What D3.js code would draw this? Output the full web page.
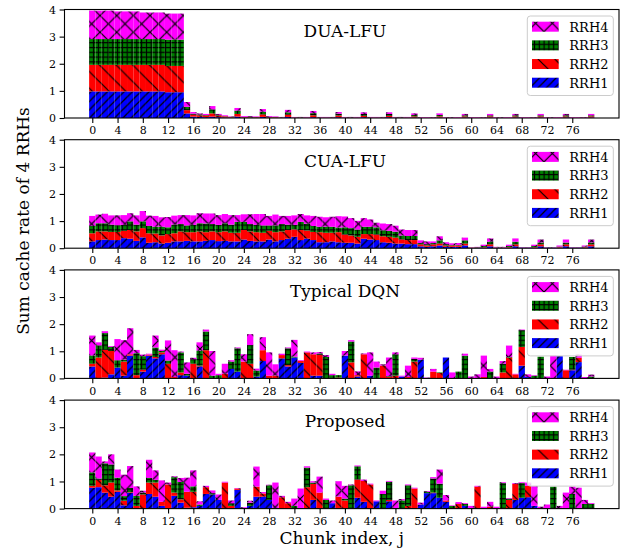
<!DOCTYPE html>
<html>
<head>
<meta charset="utf-8">
<script src="https://cdn.jsdelivr.net/npm/d3@7"></script>
<style>
  body { margin: 0; background: #fff; }
  text { font-family: "DejaVu Serif", serif; }
</style>
</head>
<body>
<svg id="chart" width="627" height="549"></svg>
<script>
// ---- data -------------------------------------------------------------
const chunks = d3.range(80);                       // chunk index j = 0..79
const seriesNames = ["RRH1", "RRH2", "RRH3", "RRH4"]; // stacking order, bottom to top
const xTickValues = d3.range(0, 80, 4);
const yTickValues = [0, 1, 2, 3, 4];
const panelTitles = ["DUA-LFU", "CUA-LFU", "Typical DQN", "Proposed"];

// cache rate per chunk: [RRH1, RRH2, RRH3, RRH4]
const duaLfu = [
  [.98,.98,.95,1.05],[.98,.98,.95,1.05],[.98,.98,.95,1.05],[.98,.98,.95,1.05],
  [.98,.98,.95,1.02],[.98,.98,.95,1.02],[.98,.98,.95,1.02],[.98,.98,.95,1.02],
  [.98,.98,.95,.98],[.98,.98,.95,.98],[.98,.98,.95,.98],[.98,.98,.95,.98],
  [.95,.97,.97,.96],[.95,.97,.97,.96],[.95,.97,.97,.96],[.17,.12,.12,.18],
  [.05,.07,.04,.06],[.04,.06,.03,.04],[.03,.06,.02,.04],[.05,.12,.15,.12],
  [.03,.06,.02,.04],[.02,.04,.01,.03],[.01,.02,.01,.02],[.05,.10,.12,.10],
  [.01,.02,.01,.03],[.01,.02,.01,.03],[.01,.02,.01,.02],[.04,.09,.10,.10],
  [.01,.02,.01,.03],[.01,.02,.01,.02],[0,.01,.01,.02],[.04,.08,.09,.09],
  [0,.01,.01,.02],[0,.01,.01,.02],[0,.01,.01,.02],[.03,.07,.08,.08],
  [0,.01,.01,.02],[0,.01,.01,.02],[0,.01,.01,.02],[.03,.06,.07,.06],
  [0,.01,.01,.02],[0,.01,.01,.02],[0,.01,.01,.02],[.03,.05,.07,.06],
  [0,.01,.01,.02],[0,.01,.01,.02],[0,.01,.01,.02],[.03,.05,.07,.06],
  [0,.01,.01,.02],[0,.01,.01,.02],[0,.01,.01,.02],[.02,.04,.05,.06],
  [0,.01,0,.02],[0,.01,0,.02],[0,.01,0,.02],[.02,.04,.05,.06],
  [0,.01,0,.02],[0,.01,0,.02],[0,.01,0,.02],[.02,.04,.04,.05],
  [0,.01,0,.02],[0,.01,0,.02],[0,.01,0,.02],[.02,.04,.04,.05],
  [0,.01,0,.02],[0,.01,0,.02],[0,.01,0,.02],[.02,.04,.04,.05],
  [0,.01,0,.02],[0,.01,0,.02],[0,.01,0,.02],[.02,.04,.04,.05],
  [0,.01,0,.02],[0,.01,0,.02],[0,.01,0,.02],[.02,.04,.04,.05],
  [0,.01,0,.02],[0,.01,0,.02],[0,.01,0,.02],[.02,.04,.04,.05]
];

const cuaLfu = [
  [.25,.30,.27,.37],[.30,.32,.30,.32],[.32,.30,.30,.35],[.30,.30,.27,.34],
  [.30,.30,.25,.36],[.37,.27,.22,.36],[.35,.32,.32,.30],[.27,.35,.25,.34],
  [.40,.34,.25,.38],[.20,.35,.27,.38],[.22,.32,.25,.40],[.17,.30,.32,.35],
  [.20,.32,.25,.38],[.25,.30,.32,.33],[.25,.37,.27,.33],[.27,.32,.25,.38],
  [.25,.34,.27,.35],[.25,.37,.30,.37],[.27,.32,.32,.37],[.30,.32,.27,.39],
  [.26,.33,.27,.36],[.27,.35,.30,.34],[.25,.32,.30,.35],[.25,.32,.40,.25],
  [.32,.35,.30,.28],[.27,.35,.27,.36],[.25,.34,.27,.40],[.25,.32,.27,.42],
  [.32,.32,.20,.35],[.25,.34,.25,.40],[.30,.32,.27,.30],[.35,.32,.20,.32],
  [.42,.27,.17,.35],[.30,.37,.30,.29],[.35,.30,.25,.31],[.30,.30,.22,.37],
  [.22,.37,.20,.37],[.22,.35,.22,.35],[.25,.32,.22,.37],[.22,.37,.17,.42],
  [.20,.30,.27,.40],[.20,.27,.27,.37],[.17,.25,.27,.32],[.35,.17,.27,.32],
  [.32,.20,.27,.27],[.30,.20,.27,.17],[.22,.22,.22,.25],[.20,.22,.22,.25],
  [.17,.22,.22,.22],[.17,.15,.15,.22],[.15,.15,.15,.22],[.15,.15,.15,.22],
  [.07,.07,.05,.10],[.05,.05,.05,.10],[.07,.07,.05,.06],[.10,.07,.12,.15],
  [.05,.05,.05,.07],[.05,.05,.02,.06],[.05,.05,.02,.07],[.10,.07,.12,.10],
  [.01,.01,.005,.01],[.02,.01,.01,.01],[.02,.02,.04,.05],[.07,.07,.10,.12],
  [.01,.01,.01,.02],[.01,.01,.01,.02],[.02,.02,.04,.05],[.07,.07,.10,.12],
  [.02,.005,.005,.01],[.02,.005,.005,.01],[.02,.02,.04,.05],[.07,.07,.07,.11],
  [.02,.005,.005,.01],[.02,.005,.005,.01],[.02,.02,.02,.04],[.07,.07,.07,.11],
  [.02,.005,.005,.01],[.02,.005,.005,.01],[.02,.02,.02,.04],[.07,.07,.07,.11]
];

const typicalDqn = [
  [.44,.10,.30,.74],[0,.77,.45,.11],[.03,1.02,.62,.07],[.15,.86,.15,.03],
  [.40,0,.27,.78],[.10,.52,.07,.72],[.84,.05,0,.96],[0,.12,.81,.12],
  [.25,.07,.50,.06],[.84,.04,0,.03],[.74,.05,.35,.44],[.89,.07,.05,.05],
  [0,.54,.12,.74],[0,.05,0,.99],[.12,.10,.74,.03],[.10,0,.07,.42],
  [0,.54,.17,.05],[.44,.03,.55,.31],[0,1.04,.69,.07],[0,0,.10,.91],
  [0,0,.12,.05],[0,.17,0,.37],[.35,0,.27,.05],[.25,0,.86,.03],
  [0,.62,0,.27],[0,.54,.69,.40],[.07,0,.22,.07],[.64,.40,0,.48],
  [0,.10,0,.86],[0,.10,0,.42],[.74,.12,0,.05],[.44,.05,.62,.03],
  [.77,0,.03,.62],[.57,.07,0,.03],[0,.96,0,.03],[.10,.79,0,.07],
  [.10,.77,.05,.05],[0,0,.79,.07],[0,0,.12,.05],[0,.03,.09,0],
  [.84,0,0,.17],[0,.59,.77,.05],[.07,.05,0,.14],[0,.89,0,.03],
  [.10,0,0,.86],[0,0,.40,.22],[0,.47,0,.05],[0,.05,.03,.69],
  [0,.10,.79,.07],[.07,0,0,.03],[0,.05,0,.42],[0,.62,.10,.05],
  [.69,0,0,.07],[0,0,0,.03],[0,.25,0,.10],[0,.20,.02,0],
  [.77,0,0,0],[0,0,0,.22],[0,0,.25,0],[0,0,.84,.07],
  [0,0,0,.07],[0,0,0,.15],[0,.05,0,.79],[0,0,.25,.10],
  [0,0,0,.07],[0,.22,.32,.10],[0,.77,.02,.42],[0,.15,0,.02],
  [.47,.69,.62,.02],[.05,0,0,.10],[0,0,.10,.02],[0,0,.80,0],
  [0,0,0,.07],[0,0,0,.85],[.82,0,0,0],[0,.30,0,.02],
  [.30,.02,.47,0],[.60,.16,0,.12],[0,0,0,.05],[0,0,.07,.07]
];

const proposed = [
  [.77,.07,.49,.74],[.79,.27,.05,.81],[.59,.27,.81,.07],[.44,.52,.67,.37],
  [.62,.05,.47,.30],[.12,.17,.17,.79],[.59,.02,.15,.81],[0,.10,.37,.35],
  [0,.52,.07,.07],[.54,.42,.17,.67],[.44,.52,.10,.35],[.10,.15,0,.79],
  [0,.89,0,.07],[.47,.12,.57,.03],[.22,.12,.64,.15],[.03,.59,0,.52],
  [.05,.57,.20,.59],[.10,0,.05,.12],[.54,.25,0,.05],[.52,0,.05,.10],
  [.32,0,0,.20],[0,.96,0,.03],[0,.10,.10,.10],[.69,.05,0,.02],
  [0,0,0,.05],[.10,0,.12,.07],[.44,.37,0,.74],[.44,.12,0,.05],
  [.32,0,.54,.02],[0,0,0,.96],[0,.42,0,.05],[0,.20,0,.05],
  [0,0,.10,.27],[0,0,0,.74],[0,.79,.72,.05],[.32,.59,.05,.05],
  [0,.59,0,.59],[0,0,.32,.05],[.20,0,0,.10],[0,.44,0,.57],
  [0,.30,.07,.47],[0,0,.86,.03],[.40,.67,.49,.03],[.25,.77,0,.05],
  [0,.89,0,.03],[.27,0,0,.03],[0,0,.54,.12],[.27,.05,.67,.03],
  [0,0,0,.30],[0,0,.30,.05],[0,.10,.76,.03],[0,.74,0,.03],
  [.15,0,0,.07],[.57,0,.05,.03],[.57,.02,.52,.05],[.40,0,.52,.52],
  [.25,.05,0,.20],[0,0,.10,.02],[0,.17,0,.07],[.10,0,.07,.03],
  [0,0,0,.10],[0,.81,0,.03],[0,0,0,.07],[0,.07,0,.18],
  [0,0,0,.07],[0,0,.94,.03],[0,.32,.05,.02],[.32,.59,0,.03],
  [.40,0,.54,.03],[.42,.42,0,.12],[.10,0,0,.74],[0,0,0,.07],
  [0,0,0,.15],[0,0,.81,0],[0,0,0,.10],[0,0,0,.59],
  [0,0,.54,.27],[0,0,0,.77],[0,0,.17,.15],[0,0,.17,.03]
];

const panelData = [duaLfu, cuaLfu, typicalDqn, proposed];

// ---- layout -------------------------------------------------------------
const W = 627, H = 549;
const plotLeft = 64.5, plotRight = 619;
const panelTop0 = 9.5, panelStep = 130.2, panelH = 108.5;

const svg = d3.select("#chart");

// hatch fills for each RRH
const seriesStyle = {
  RRH1: { color: "#0000ff", hatch: "fwd",   size: 8.33 },
  RRH2: { color: "#ff0000", hatch: "back",  size: 16.67 },
  RRH3: { color: "#008000", hatch: "grid",  size: 4.8 },
  RRH4: { color: "#ff00ff", hatch: "cross", size: 16.67 }
};

const defs = svg.append("defs");
function hatchPath(kind, p) {
  const fwd = `M0,${p} L${p},0 M${-p/2},${p/2} L${p/2},${-p/2} M${p/2},${1.5*p} L${1.5*p},${p/2}`;
  const back = `M0,0 L${p},${p} M${-p/2},${p/2} L${p/2},${1.5*p} M${p/2},${-p/2} L${1.5*p},${p/2}`;
  if (kind === "fwd") return fwd;
  if (kind === "back") return back;
  if (kind === "cross") return fwd + " " + back;
  return `M0,${p/2} L${p},${p/2} M${p/2},0 L${p/2},${p}`;
}
seriesNames.forEach(name => {
  const st = seriesStyle[name];
  const pat = defs.append("pattern")
    .attr("id", "hatch-" + name)
    .attr("patternUnits", "userSpaceOnUse")
    .attr("x", 0).attr("y", H % st.size)
    .attr("width", st.size).attr("height", st.size);
  pat.append("rect").attr("width", st.size).attr("height", st.size).attr("fill", st.color);
  pat.append("path").attr("d", hatchPath(st.hatch, st.size))
    .attr("stroke", "#000").attr("stroke-width", 1.2).attr("fill", "none");
});

const x = d3.scaleLinear().domain([-4.4, 83.4]).range([plotLeft, plotRight]);
const stack = d3.stack().keys([0, 1, 2, 3]);

panelData.forEach((rows, pi) => {
  const top = panelTop0 + pi * panelStep;
  const bottom = top + panelH;
  const y = d3.scaleLinear().domain([0, 4]).range([bottom, top]);
  const g = svg.append("g");

  const layers = stack(rows);
  layers.forEach((layer, li) => {
    const name = seriesNames[li];
    g.append("g")
      .selectAll("rect")
      .data(layer.map((d, i) => ({ i, y0: d[0], y1: d[1] })))
      .join("rect")
      .attr("x", d => x(chunks[d.i] - 0.5))
      .attr("width", d => x(chunks[d.i] + 0.5) - x(chunks[d.i] - 0.5))
      .attr("y", d => y(d.y1))
      .attr("height", d => Math.max(0, y(d.y0) - y(d.y1)))
      .attr("fill", `url(#hatch-${name})`);
  });

  // axes
  const xAxis = d3.axisBottom(x).tickValues(xTickValues).tickSize(4.9).tickPadding(3.5);
  const yAxis = d3.axisLeft(y).tickValues(yTickValues).tickSize(4.9).tickPadding(3.5)
    .tickFormat(d3.format("d"));
  const gx = g.append("g").attr("transform", `translate(0,${bottom})`).call(xAxis);
  const gy = g.append("g").attr("transform", `translate(${plotLeft},0)`).call(yAxis);
  [gx, gy].forEach(ax => {
    ax.select(".domain").remove();
    ax.selectAll(".tick line").attr("stroke", "#000").attr("stroke-width", 1.1);
    ax.selectAll(".tick text").attr("fill", "#000")
      .style("font-family", '"DejaVu Serif", serif').style("font-size", "11px");
  });

  // frame
  g.append("rect")
    .attr("x", plotLeft).attr("y", top)
    .attr("width", plotRight - plotLeft).attr("height", panelH)
    .attr("fill", "none").attr("stroke", "#000").attr("stroke-width", 1.1);

  // panel title
  g.append("text")
    .attr("x", 345).attr("y", top + 27)
    .attr("text-anchor", "middle")
    .style("font-size", "17px")
    .text(panelTitles[pi]);

  // legend
  const lg = g.append("g").attr("transform", `translate(527.3,${top + 6.5})`);
  lg.append("rect")
    .attr("width", 86).attr("height", 79.5).attr("rx", 3)
    .attr("fill", "#fff").attr("fill-opacity", 0.8)
    .attr("stroke", "#cccccc").attr("stroke-width", 1);
  seriesNames.slice().reverse().forEach((name, k) => {
    const cy = 10.7 + k * 18.67;
    lg.append("rect")
      .attr("x", 4.7).attr("y", cy - 5).attr("width", 26.7).attr("height", 10)
      .attr("fill", `url(#hatch-${name})`);
    lg.append("text")
      .attr("x", 42).attr("y", cy + 4.8)
      .style("font-size", "13px")
      .text(name);
  });
});

// shared axis labels
svg.append("text")
  .attr("transform", "translate(29,221) rotate(-90)")
  .attr("text-anchor", "middle")
  .style("font-size", "17px")
  .text("Sum cache rate of 4 RRHs");

svg.append("text")
  .attr("x", 341.8).attr("y", 544)
  .attr("text-anchor", "middle")
  .style("font-size", "17px")
  .text("Chunk index, j");
</script>
</body>
</html>
